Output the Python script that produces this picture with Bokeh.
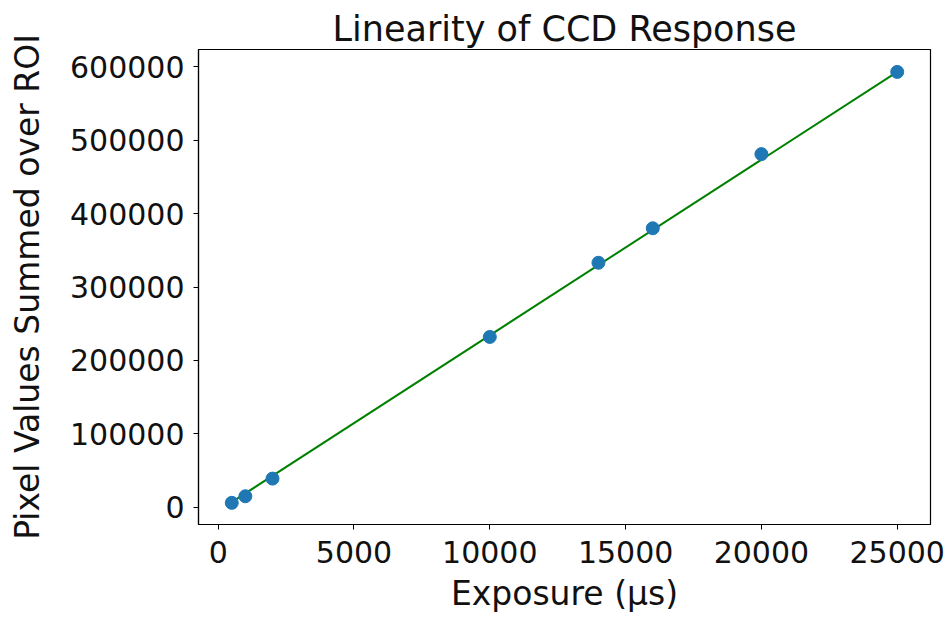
from bokeh.plotting import figure
from bokeh.models import FixedTicker, NumeralTickFormatter, Range1d
from bokeh.embed import file_html
from bokeh.resources import INLINE

exposure = [500, 1000, 2000, 10000, 14000, 16000, 20000, 25000]
pixel_sum = [6000, 15000, 39000, 232000, 333000, 380000, 481000, 593000]
fit_x = [500, 25000]
fit_y = [7000, 593000]
x_ticks = [0, 5000, 10000, 15000, 20000, 25000]
y_ticks = [0, 100000, 200000, 300000, 400000, 500000, 600000]

FONT = "DejaVu Sans"

p = figure(width=948, height=620, output_backend="svg", toolbar_location=None,
           x_range=Range1d(-725, 26225), y_range=Range1d(-23500, 623500),
           min_border_left=198, min_border_right=18, min_border_top=49,
           min_border_bottom=96)

p.title.text = "Linearity of CCD Response"
p.title.align = "center"
p.title.text_font = FONT
p.title.text_font_size = "35px"
p.title.text_font_style = "normal"
p.title.text_color = "#111111"
p.title.standoff = 2
p.title.offset = 0

p.line(fit_x, fit_y, line_color="#008000", line_width=2)
p.scatter(exposure, pixel_sum, size=13, fill_color="#1f77b4", line_color="#1f77b4")

p.xgrid.visible = False
p.ygrid.visible = False
p.outline_line_color = "black"
p.outline_line_width = 1.2
p.outline_line_alpha = 1

p.xaxis.ticker = FixedTicker(ticks=x_ticks)
p.yaxis.ticker = FixedTicker(ticks=y_ticks)
p.xaxis.formatter = NumeralTickFormatter(format="0")
p.yaxis.formatter = NumeralTickFormatter(format="0")
p.xaxis.axis_label = "Exposure (μs)"
p.yaxis.axis_label = "Pixel Values Summed over ROI"

for ax in (p.xaxis[0], p.yaxis[0]):
    ax.axis_line_color = "black"
    ax.axis_line_width = 1.2
    ax.major_tick_line_color = "black"
    ax.major_tick_out = 5
    ax.major_tick_in = 0
    ax.minor_tick_line_color = None
    ax.major_label_text_font = FONT
    ax.major_label_text_font_size = "30px"
    ax.major_label_text_color = "#111111"
    ax.axis_label_text_font = FONT
    ax.axis_label_text_font_size = "33px"
    ax.axis_label_text_font_style = "normal"
    ax.axis_label_text_color = "#111111"

p.xaxis[0].major_label_standoff = 11
p.xaxis[0].axis_label_standoff = 8
p.yaxis[0].major_label_standoff = 9
p.yaxis[0].axis_label_standoff = 20

open("out.html", "w").write(file_html(p, INLINE))
